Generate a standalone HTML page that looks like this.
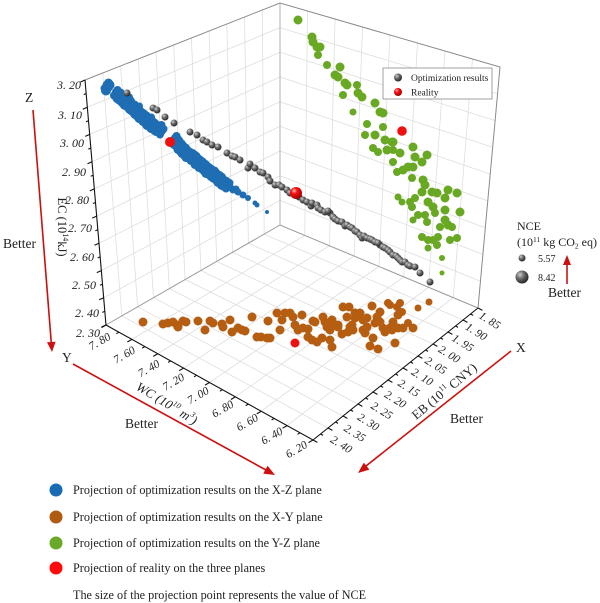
<!DOCTYPE html>
<html><head><meta charset="utf-8"><style>
html,body{margin:0;padding:0;background:#fff;}
svg{display:block;}
text{font-family:"Liberation Serif",serif;fill:#222;}
</style></head><body>
<svg width="600" height="603" viewBox="0 0 600 603" xmlns="http://www.w3.org/2000/svg">
<defs>
<radialGradient id="gs" cx="0.35" cy="0.32" r="0.7"><stop offset="0" stop-color="#cfcfcf"/><stop offset="0.45" stop-color="#6a6a6a"/><stop offset="1" stop-color="#262626"/></radialGradient>
<radialGradient id="rs" cx="0.35" cy="0.32" r="0.7"><stop offset="0" stop-color="#ffc0c0"/><stop offset="0.35" stop-color="#ff1010"/><stop offset="1" stop-color="#a00000"/></radialGradient>
</defs>
<rect width="600" height="603" fill="#fff"/>
<g stroke="#dedede" stroke-width="0.8" fill="none">
<path d="M121.8,315.9L102.7,73M137.6,306.8L120.5,66M153.5,297.7L138.2,59M169.3,288.6L155.9,52M185.1,279.5L173.6,45M200.9,270.5L191.4,38M216.7,261.4L209.1,31M232.5,252.3L226.8,24M248.4,243.2L244.5,17M264.2,234.1L262.3,10"/>
<path d="M87.3,107.2L280,27.7M89.7,134.4L280,52.3M92,161.7L280,77M94.3,188.9L280,101.7M96.7,216.1L280,126.3M99,243.3L280,151M101.3,270.6L280,175.7M103.7,297.8L280,200.3"/>
<path d="M304.75,235.4L307.5,11M329.5,245.75L335,19M354.25,256.1L362.5,27M379,266.5L390,35M403.75,276.9L417.5,43M428.5,287.25L445,51M453.25,297.6L472.5,59"/>
<path d="M280,27.7L497.6,93.8M280,52.3L495.1,120.6M280,77L492.7,147.3M280,101.7L490.2,174.1M280,126.3L487.8,200.9M280,151L485.3,227.7M280,175.7L482.9,254.4M280,200.3L480.4,281.2"/>
<path d="M121.8,315.9L328,428M137.6,306.8L343,416M153.5,297.7L358,404M169.3,288.6L373,392M185.1,279.5L388,380M200.9,270.5L403,368M216.7,261.4L418,356M232.5,252.3L433,344M248.4,243.2L448,332M264.2,234.1L463,320"/>
<path d="M131.9,339.4L304.75,235.4M157.75,353.75L329.5,245.75M183.6,368.1L354.25,256.1M209.5,382.5L379,266.5M235.4,396.9L403.75,276.9M261.25,411.25L428.5,287.25M287.1,425.6L453.25,297.6"/>
</g>
<g stroke="#8a8a8a" stroke-width="1" fill="none">
<path d="M85,80L280,3L500,67L478,308"/>
<path d="M280,3L280,225" stroke="#b0b0b0"/>
<path d="M106,325L280,225L478,308" stroke="#9a9a9a"/>
</g>
<!-- blue -->
<g fill="#1f6db3">
<g id="bmain">
<circle cx="108" cy="87" r="5"/><circle cx="107" cy="85" r="4.5"/><circle cx="116" cy="92" r="4"/><circle cx="119" cy="95" r="4.5"/><circle cx="121" cy="97" r="4"/><circle cx="124" cy="99" r="4.5"/><circle cx="126" cy="102" r="4"/><circle cx="129" cy="103" r="4.5"/><circle cx="131" cy="106" r="4"/><circle cx="133" cy="107" r="4.5"/><circle cx="135" cy="109" r="4"/><circle cx="137" cy="111" r="4.5"/><circle cx="139" cy="113" r="4"/><circle cx="141" cy="115" r="4.5"/><circle cx="143" cy="116" r="4"/><circle cx="145" cy="118" r="4.5"/><circle cx="147" cy="120" r="4"/><circle cx="149" cy="122" r="4.5"/><circle cx="151" cy="123" r="4"/><circle cx="153" cy="125" r="4.5"/><circle cx="156" cy="127" r="4"/><circle cx="158" cy="128" r="4.5"/><circle cx="160" cy="127" r="4"/><circle cx="162" cy="131" r="4"/><circle cx="150" cy="119" r="3.5"/><circle cx="138" cy="108" r="3.5"/><circle cx="128" cy="99" r="3.5"/>
<circle cx="175" cy="138" r="4"/><circle cx="176" cy="141" r="4.5"/><circle cx="178" cy="143" r="4"/><circle cx="180" cy="146" r="4.5"/><circle cx="182" cy="148" r="4"/><circle cx="184" cy="150" r="4.5"/><circle cx="186" cy="152" r="4"/><circle cx="188" cy="154" r="4.5"/><circle cx="191" cy="155" r="4"/><circle cx="193" cy="157" r="4.5"/><circle cx="195" cy="158" r="4"/><circle cx="197" cy="161" r="4.5"/><circle cx="199" cy="162" r="4"/><circle cx="201" cy="164" r="4.5"/><circle cx="204" cy="166" r="4"/><circle cx="206" cy="168" r="4"/><circle cx="208" cy="170" r="4.5"/><circle cx="210" cy="171" r="4"/><circle cx="213" cy="173" r="4.5"/><circle cx="215" cy="175" r="4"/><circle cx="218" cy="177" r="4"/><circle cx="220" cy="179" r="4.5"/><circle cx="223" cy="182" r="4"/><circle cx="225" cy="183" r="4"/><circle cx="228" cy="185" r="4"/>
</g>
<use href="#bmain" transform="translate(-2,3.5)"/>
<use href="#bmain" transform="translate(1.5,-2)"/>
<circle cx="231" cy="188" r="3.5"/><circle cx="233" cy="190" r="3.5"/><circle cx="236" cy="189" r="3.5"/><circle cx="238" cy="192" r="3.5"/><circle cx="243" cy="195" r="3.5"/><circle cx="248" cy="198" r="3"/><circle cx="255" cy="203" r="2.5"/><circle cx="257" cy="205" r="2.5"/><circle cx="267" cy="212" r="2"/>
</g>
<circle cx="170" cy="142" r="5" fill="#f01010"/>
<!-- green -->
<g fill="#69a823">
<circle cx="298" cy="20" r="4.5"/><circle cx="312" cy="37" r="4.5"/><circle cx="313" cy="42" r="4.5"/><circle cx="317" cy="47" r="4.5"/><circle cx="320" cy="47" r="4.5"/><circle cx="318" cy="55" r="4"/><circle cx="327" cy="65" r="4"/><circle cx="340" cy="67" r="4.5"/><circle cx="335" cy="75" r="4.5"/><circle cx="338" cy="77" r="4.5"/><circle cx="345" cy="83" r="4.5"/><circle cx="347" cy="85" r="4.5"/><circle cx="357" cy="85" r="4"/><circle cx="343" cy="95" r="4"/><circle cx="358" cy="93" r="4.5"/><circle cx="362" cy="97" r="4.5"/><circle cx="375" cy="103" r="4.5"/><circle cx="380" cy="112" r="4.5"/><circle cx="383" cy="113" r="4.5"/><circle cx="353" cy="112" r="3.5"/><circle cx="367" cy="124" r="4"/><circle cx="383" cy="127" r="4"/><circle cx="365" cy="135" r="4"/><circle cx="375" cy="135" r="4.5"/><circle cx="385" cy="140" r="4.5"/><circle cx="393" cy="142" r="4.5"/><circle cx="373" cy="148" r="4"/><circle cx="378" cy="152" r="4"/><circle cx="387" cy="150" r="4.5"/><circle cx="392" cy="142" r="4.5"/><circle cx="393" cy="150" r="4"/><circle cx="400" cy="153" r="4.5"/><circle cx="413" cy="147" r="4.5"/><circle cx="415" cy="157" r="4.5"/><circle cx="427" cy="155" r="4.5"/><circle cx="422" cy="162" r="4.5"/><circle cx="393" cy="162" r="4"/><circle cx="397" cy="172" r="4"/><circle cx="403" cy="170" r="4.5"/><circle cx="408" cy="167" r="4.5"/><circle cx="413" cy="167" r="4.5"/><circle cx="412" cy="178" r="4"/><circle cx="423" cy="180" r="4.5"/><circle cx="425" cy="185" r="4.5"/><circle cx="422" cy="192" r="4.5"/><circle cx="432" cy="192" r="4.5"/><circle cx="437" cy="193" r="4.5"/><circle cx="448" cy="190" r="4.5"/><circle cx="457" cy="193" r="4.5"/><circle cx="445" cy="198" r="4.5"/><circle cx="398" cy="197" r="3.5"/><circle cx="402" cy="202" r="3.5"/><circle cx="410" cy="202" r="4"/><circle cx="415" cy="198" r="4"/><circle cx="412" cy="207" r="4"/><circle cx="428" cy="202" r="4.5"/><circle cx="433" cy="207" r="4.5"/><circle cx="435" cy="213" r="4"/><circle cx="445" cy="210" r="4.5"/><circle cx="460" cy="212" r="4.5"/><circle cx="418" cy="215" r="4"/><circle cx="425" cy="215" r="4"/><circle cx="413" cy="220" r="3.5"/><circle cx="427" cy="222" r="4"/><circle cx="445" cy="220" r="4.5"/><circle cx="448" cy="225" r="4.5"/><circle cx="440" cy="227" r="4"/><circle cx="452" cy="227" r="4"/><circle cx="422" cy="237" r="4"/><circle cx="428" cy="240" r="4"/><circle cx="433" cy="240" r="4"/><circle cx="438" cy="237" r="4"/><circle cx="437" cy="245" r="4"/><circle cx="450" cy="240" r="4"/><circle cx="457" cy="238" r="4"/><circle cx="428" cy="248" r="3.5"/><circle cx="442" cy="258" r="3"/><circle cx="442" cy="273" r="2.5"/>
</g>
<circle cx="402" cy="131" r="4.8" fill="#f01010"/>
<!-- orange -->
<g fill="#b55e12">
<circle cx="143" cy="322" r="4.5"/><circle cx="163" cy="324" r="4.5"/><circle cx="168" cy="323" r="4.5"/><circle cx="173" cy="322" r="4.5"/><circle cx="177" cy="325" r="4.5"/><circle cx="178" cy="327" r="4.5"/><circle cx="183" cy="321" r="4.5"/><circle cx="186" cy="322" r="4.5"/><circle cx="198" cy="321" r="4.5"/><circle cx="205" cy="330" r="4.5"/><circle cx="210" cy="321" r="4.5"/><circle cx="213" cy="323" r="4.5"/><circle cx="222" cy="324" r="4.5"/><circle cx="223" cy="327" r="4.5"/><circle cx="230" cy="320" r="4.5"/><circle cx="232" cy="332" r="4.5"/><circle cx="238" cy="328" r="4.5"/><circle cx="242" cy="330" r="4.5"/><circle cx="245" cy="331" r="4.5"/><circle cx="252" cy="317" r="4.5"/><circle cx="257" cy="337" r="4.5"/><circle cx="261" cy="337" r="4.5"/><circle cx="267" cy="338" r="4.5"/><circle cx="270" cy="338" r="4.5"/><circle cx="268" cy="321" r="4.5"/><circle cx="277" cy="313" r="4.5"/><circle cx="282" cy="320" r="4.5"/><circle cx="285" cy="313" r="4.5"/><circle cx="290" cy="313" r="4.5"/><circle cx="293" cy="317" r="4.5"/><circle cx="295" cy="325" r="4.5"/><circle cx="280" cy="330" r="4.5"/><circle cx="298" cy="330" r="4.5"/><circle cx="303" cy="328" r="4.5"/><circle cx="308" cy="329" r="4.5"/><circle cx="313" cy="321" r="4.5"/><circle cx="302" cy="315" r="4.5"/><circle cx="315" cy="322" r="4.5"/><circle cx="323" cy="317" r="4.5"/><circle cx="325" cy="322" r="4.5"/><circle cx="327" cy="327" r="4.5"/><circle cx="330" cy="330" r="4.5"/><circle cx="322" cy="338" r="4.5"/><circle cx="317" cy="342" r="4.5"/><circle cx="308" cy="337" r="4.5"/><circle cx="312" cy="340" r="4.5"/><circle cx="330" cy="340" r="4.5"/><circle cx="332" cy="347" r="4.5"/><circle cx="332" cy="320" r="4.5"/><circle cx="335" cy="325" r="4.5"/><circle cx="338" cy="325" r="4.5"/><circle cx="342" cy="334" r="4.5"/><circle cx="348" cy="332" r="4.5"/><circle cx="343" cy="307" r="4.5"/><circle cx="349" cy="307" r="4.5"/><circle cx="355" cy="313" r="4.5"/><circle cx="360" cy="313" r="4.5"/><circle cx="352" cy="325" r="4.5"/><circle cx="353" cy="330" r="4.5"/><circle cx="363" cy="330" r="4.5"/><circle cx="367" cy="327" r="4.5"/><circle cx="365" cy="333" r="4.5"/><circle cx="373" cy="338" r="4.5"/><circle cx="370" cy="346" r="4.5"/><circle cx="378" cy="349" r="4.5"/><circle cx="372" cy="306" r="4.5"/><circle cx="380" cy="312" r="4.5"/><circle cx="377" cy="317" r="4.5"/><circle cx="380" cy="322" r="4.5"/><circle cx="383" cy="328" r="4.5"/><circle cx="390" cy="328" r="4.5"/><circle cx="388" cy="303" r="4"/><circle cx="390" cy="305" r="4"/><circle cx="397" cy="307" r="4"/><circle cx="400" cy="303" r="4"/><circle cx="402" cy="312" r="4"/><circle cx="393" cy="322" r="4.5"/><circle cx="398" cy="328" r="4.5"/><circle cx="403" cy="328" r="4.5"/><circle cx="408" cy="323" r="4"/><circle cx="413" cy="328" r="4.5"/><circle cx="395" cy="343" r="4.5"/><circle cx="418" cy="308" r="3.5"/><circle cx="429" cy="302" r="3.5"/><circle cx="347" cy="317" r="4.5"/><circle cx="363" cy="320" r="4.5"/><circle cx="338" cy="327" r="4.5"/><circle cx="350" cy="327" r="4.5"/><circle cx="355" cy="318" r="4.5"/><circle cx="367" cy="318" r="4.5"/><circle cx="375" cy="323" r="4.5"/><circle cx="385" cy="332" r="4.5"/><circle cx="392" cy="330" r="4.5"/><circle cx="398" cy="315" r="4.5"/>
</g>
<circle cx="295" cy="343" r="4.5" fill="#f01010"/>
<!-- gray spheres -->
<g fill="url(#gs)">
<circle cx="127" cy="93" r="3.5"/><circle cx="153" cy="108" r="3.5"/><circle cx="157" cy="110" r="3.5"/><circle cx="165" cy="117" r="3.5"/><circle cx="174" cy="123" r="3.5"/><circle cx="190" cy="132" r="3.5"/><circle cx="197" cy="135" r="3.5"/><circle cx="203" cy="140" r="3.5"/><circle cx="207" cy="142" r="3.5"/><circle cx="212" cy="145" r="3.5"/><circle cx="218" cy="147" r="3.5"/><circle cx="227" cy="153" r="3.5"/><circle cx="232" cy="156" r="3.5"/><circle cx="235" cy="157" r="3.5"/><circle cx="240" cy="160" r="3.5"/><circle cx="248" cy="168" r="3.5"/><circle cx="250" cy="164" r="3.5"/><circle cx="255" cy="168" r="3.5"/><circle cx="260" cy="172" r="3.5"/><circle cx="263" cy="173" r="3.5"/><circle cx="268" cy="177" r="3.5"/><circle cx="270" cy="181" r="3.5"/><circle cx="275" cy="185" r="3.5"/><circle cx="279" cy="185" r="3.5"/><circle cx="282" cy="187" r="3.5"/><circle cx="287" cy="190" r="3.5"/><circle cx="290" cy="193" r="3.5"/>
<circle cx="299" cy="197" r="3.5"/><circle cx="303" cy="200" r="3.5"/><circle cx="307" cy="202" r="3.5"/><circle cx="311" cy="206" r="3.5"/><circle cx="312" cy="203" r="3.5"/><circle cx="317" cy="205" r="3.5"/><circle cx="318" cy="208" r="3.5"/><circle cx="321" cy="210" r="3.5"/><circle cx="325" cy="212" r="3.5"/><circle cx="330" cy="213" r="3.5"/><circle cx="333" cy="217" r="3.5"/><circle cx="328" cy="211" r="3.5"/><circle cx="335" cy="219" r="3.5"/><circle cx="338" cy="221" r="3.5"/><circle cx="342" cy="222" r="3.5"/><circle cx="345" cy="226" r="3.5"/><circle cx="347" cy="225" r="3.5"/><circle cx="350" cy="227" r="3.5"/><circle cx="352" cy="228" r="3.5"/><circle cx="355" cy="231" r="3.5"/><circle cx="357" cy="232" r="3.5"/><circle cx="360" cy="235" r="3.5"/><circle cx="362" cy="238" r="3.5"/><circle cx="364" cy="236" r="3.5"/><circle cx="367" cy="238" r="3.5"/><circle cx="370" cy="239" r="3.5"/><circle cx="372" cy="240" r="3.5"/><circle cx="375" cy="242" r="3.5"/><circle cx="380" cy="245" r="3.5"/><circle cx="378" cy="243" r="3.5"/><circle cx="383" cy="247" r="3.5"/><circle cx="385" cy="248" r="3.5"/><circle cx="388" cy="250" r="3.5"/><circle cx="390" cy="252" r="3.5"/><circle cx="393" cy="255" r="3.5"/><circle cx="396" cy="256" r="3.5"/><circle cx="398" cy="258" r="3.5"/><circle cx="400" cy="260" r="3.5"/><circle cx="402" cy="262" r="3.5"/><circle cx="405" cy="262" r="3.5"/><circle cx="408" cy="265" r="3.5"/><circle cx="410" cy="266" r="3.5"/><circle cx="415" cy="267" r="3.5"/><circle cx="420" cy="273" r="3.5"/><circle cx="430" cy="282" r="3.5"/>
</g>
<circle cx="296" cy="193" r="6" fill="url(#rs)"/>
<!-- axes -->
<g stroke="#111" stroke-width="1.1" fill="none">
<path d="M85,80L106,325L313,440L478,308"/>
<path d="M85,80l-4.5,2M87.3,107.2l-4.5,2M89.7,134.4l-4.5,2M92,161.7l-4.5,2M94.3,188.9l-4.5,2M96.7,216.1l-4.5,2M99,243.3l-4.5,2M101.3,270.6l-4.5,2M103.7,297.8l-4.5,2M106,325l-4.5,2M86.2,93.6l-2.5,1M88.5,120.8l-2.5,1M90.8,148.1l-2.5,1M93.2,175.3l-2.5,1M95.5,202.5l-2.5,1M97.8,229.7l-2.5,1M100.2,256.9l-2.5,1M102.5,284.2l-2.5,1M104.8,311.4l-2.5,1"/>
<path d="M106,325l-4.5,2.6M131.9,339.4l-4.5,2.6M157.75,353.75l-4.5,2.6M183.6,368.1l-4.5,2.6M209.5,382.5l-4.5,2.6M235.4,396.9l-4.5,2.6M261.25,411.25l-4.5,2.6M287.1,425.6l-4.5,2.6M313,440l-4.5,2.6M118.9,332.2l-2.6,1.5M144.8,346.6l-2.6,1.5M170.7,360.9l-2.6,1.5M196.6,375.3l-2.6,1.5M222.4,389.7l-2.6,1.5M248.3,404.1l-2.6,1.5M274.2,418.4l-2.6,1.5M300.1,432.8l-2.6,1.5"/>
<path d="M313,440l4.4,2.4M328,428l4.4,2.4M343,416l4.4,2.4M358,404l4.4,2.4M373,392l4.4,2.4M388,380l4.4,2.4M403,368l4.4,2.4M418,356l4.4,2.4M433,344l4.4,2.4M448,332l4.4,2.4M463,320l4.4,2.4M478,308l4.4,2.4M320.5,434l2.6,1.4M335.5,422l2.6,1.4M350.5,410l2.6,1.4M365.5,398l2.6,1.4M380.5,386l2.6,1.4M395.5,374l2.6,1.4M410.5,362l2.6,1.4M425.5,350l2.6,1.4M440.5,338l2.6,1.4M455.5,326l2.6,1.4M470.5,314l2.6,1.4"/>
</g>
<g font-size="12" font-style="italic" text-anchor="end" fill="#333">
<text x="81" y="89">3. 20</text><text x="82" y="119">3. 10</text><text x="84" y="147">3. 00</text><text x="86" y="176">2. 90</text><text x="89" y="204">2. 80</text><text x="92" y="232">2. 70</text><text x="94" y="261">2. 60</text><text x="96" y="289">2. 50</text><text x="99" y="317">2. 40</text><text x="100" y="337">2. 30</text>
</g>
<g font-size="11.5" font-style="italic" text-anchor="middle" dominant-baseline="central" fill="#333">
<text transform="translate(100,342) rotate(-30)">7. 80</text>
<text transform="translate(124.6,355.5) rotate(-30)">7. 60</text>
<text transform="translate(149.2,369) rotate(-30)">7. 40</text>
<text transform="translate(173.8,382.5) rotate(-30)">7. 20</text>
<text transform="translate(198.4,396) rotate(-30)">7. 00</text>
<text transform="translate(223,409.5) rotate(-30)">6. 80</text>
<text transform="translate(247.6,423) rotate(-30)">6. 60</text>
<text transform="translate(272.2,436.5) rotate(-30)">6. 40</text>
<text transform="translate(296.8,450) rotate(-30)">6. 20</text>
</g>
<g font-size="11.5" font-style="italic" text-anchor="middle" dominant-baseline="central" fill="#333">
<text transform="translate(341,445) rotate(32)">2. 40</text>
<text transform="translate(354.5,433.7) rotate(32)">2. 35</text>
<text transform="translate(368,422.5) rotate(32)">2. 30</text>
<text transform="translate(381.5,411.2) rotate(32)">2. 25</text>
<text transform="translate(395,399.9) rotate(32)">2. 20</text>
<text transform="translate(408.5,388.6) rotate(32)">2. 15</text>
<text transform="translate(422,377.4) rotate(32)">2. 10</text>
<text transform="translate(435.5,366.1) rotate(32)">2. 05</text>
<text transform="translate(449,354.8) rotate(32)">2. 00</text>
<text transform="translate(462.5,343.5) rotate(32)">1. 95</text>
<text transform="translate(476,332.3) rotate(32)">1. 90</text>
<text transform="translate(489.5,321) rotate(32)">1. 85</text>
</g>
<text transform="translate(62,227) rotate(90)" font-size="12.5" text-anchor="middle" dominant-baseline="central" fill="#333">EC  (10<tspan dy="-4" font-size="8">14</tspan><tspan dy="4">kJ)</tspan></text>
<text transform="translate(167,403) rotate(31)" font-size="13" font-style="italic" text-anchor="middle" dominant-baseline="central" fill="#333">WC (10<tspan dy="-4" font-size="8">10</tspan><tspan dy="4"> m</tspan><tspan dy="-4" font-size="8">3</tspan><tspan dy="4">)</tspan></text>
<text transform="translate(444,391) rotate(-40)" font-size="13" text-anchor="middle" dominant-baseline="central" fill="#333">EB (10<tspan dy="-4" font-size="8">11</tspan><tspan dy="4"> CNY)</tspan></text>
<g stroke="#cc1010" stroke-width="1.6" fill="none">
<path d="M33,110L51.3,343"/>
<path d="M73,364L266,470"/>
<path d="M511,351L366,466"/>
<path d="M567,284L567,264"/>
</g>
<g fill="#cc1010">
<path d="M52,352L55.6,341.7L47,342.3Z"/>
<path d="M275,475L263.2,473.6L267.6,465.8Z"/>
<path d="M358,473L363.8,462.6L369.4,469.6Z"/>
<path d="M567,255L571,265L563,265Z"/>
</g>
<g font-size="13.5" fill="#222">
<text x="25" y="102">Z</text>
<text x="62" y="362">Y</text>
<text x="516" y="352">X</text>
<text x="3" y="248">Better</text>
<text x="125" y="428">Better</text>
<text x="450" y="423">Better</text>
<text x="548" y="297">Better</text>
</g>
<rect x="383" y="68" width="109" height="31" fill="#fff" stroke="#8a8a8a" stroke-width="0.8"/>
<circle cx="398" cy="77.5" r="4" fill="url(#gs)"/>
<circle cx="398" cy="92" r="4" fill="url(#rs)"/>
<g font-size="9.5" fill="#222">
<text x="411" y="81">Optimization results</text>
<text x="411" y="95.5">Reality</text>
</g>
<g font-size="12" fill="#222">
<text x="517" y="230">NCE</text>
<text x="517" y="246">(10<tspan dy="-4" font-size="7.5">11</tspan><tspan dy="4"> kg CO</tspan><tspan dy="2.5" font-size="7.5">2</tspan><tspan dy="-2.5"> eq)</tspan></text>
</g>
<circle cx="522" cy="258" r="3.5" fill="url(#gs)"/>
<circle cx="522" cy="277" r="6.5" fill="url(#gs)"/>
<g font-size="10" fill="#333">
<text x="538" y="262">5.57</text>
<text x="538" y="281">8.42</text>
</g>
<circle cx="56" cy="490" r="6.5" fill="#1a6cb2"/>
<circle cx="56" cy="517" r="6.5" fill="#b05a12"/>
<circle cx="56" cy="543" r="6.5" fill="#6aa82a"/>
<circle cx="56" cy="568" r="6.5" fill="#ff0a0a"/>
<g font-size="12.2" fill="#222">
<text x="73" y="494">Projection of optimization results on the X-Z plane</text>
<text x="73" y="521">Projection of optimization results on the X-Y plane</text>
<text x="73" y="547">Projection of optimization results on the Y-Z plane</text>
<text x="73" y="572">Projection of reality on the three planes</text>
<text x="73" y="599">The size of the projection point represents the value of NCE</text>
</g>
</svg>
</body></html>
